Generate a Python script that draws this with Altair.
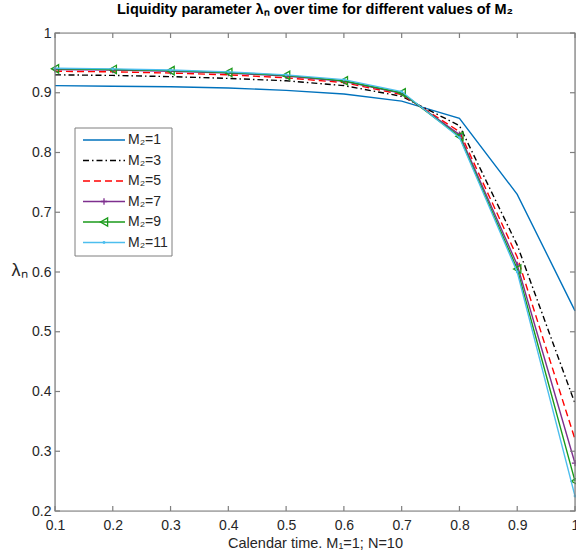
import altair as alt
import pandas as pd

# ---- data ----
x_vals = [0.1, 0.2, 0.3, 0.4, 0.5, 0.6, 0.7, 0.8, 0.9, 1.0]
m2_1 = [0.912, 0.911, 0.910, 0.908, 0.904, 0.898, 0.886, 0.857, 0.730, 0.535]
m2_3 = [0.930, 0.929, 0.927, 0.924, 0.920, 0.912, 0.894, 0.845, 0.645, 0.380]
m2_5 = [0.936, 0.935, 0.933, 0.930, 0.925, 0.917, 0.897, 0.835, 0.625, 0.320]
m2_7 = [0.939, 0.938, 0.936, 0.933, 0.928, 0.919, 0.899, 0.830, 0.612, 0.280]
m2_9 = [0.940, 0.939, 0.937, 0.934, 0.929, 0.920, 0.900, 0.827, 0.605, 0.250]
m2_11 = [0.941, 0.940, 0.938, 0.935, 0.930, 0.922, 0.902, 0.825, 0.600, 0.225]

series_names = ["M₂=1", "M₂=3", "M₂=5", "M₂=7", "M₂=9", "M₂=11"]
series_vals = [m2_1, m2_3, m2_5, m2_7, m2_9, m2_11]
x_ticks = [0.1, 0.2, 0.3, 0.4, 0.5, 0.6, 0.7, 0.8, 0.9, 1.0]
y_ticks = [0.2, 0.3, 0.4, 0.5, 0.6, 0.7, 0.8, 0.9, 1.0]

rows = []
for name, vals in zip(series_names, series_vals):
    for xv, yv in zip(x_vals, vals):
        rows.append({"series": name, "x": xv, "y": yv})
df = pd.DataFrame(rows)

# ---- styles ----
W, H = 520, 478
FONT = "Liberation Sans"
styles = {
    "M₂=1": dict(color="#0072BD", dash=None, shape=None),
    "M₂=3": dict(color="#000000", dash=[6, 3, 1.5, 3], shape=None),
    "M₂=5": dict(color="#FF0000", dash=[7, 4], shape=None),
    "M₂=7": dict(color="#7E2F8E", dash=None, shape="M-1,0L1,0M0,-1L0,1"),
    "M₂=9": dict(color="#1A9A1A", dash=None, shape="triangle-left"),
    "M₂=11": dict(color="#4DBEEE", dash=None, shape="circle"),
}

xscale = alt.Scale(domain=[0.1, 1.0], nice=False, zero=False)
yscale = alt.Scale(domain=[0.2, 1.0], nice=False, zero=False)
lab_expr = "datum.value == 1 ? '1' : format(datum.value, '.1f')"

x_axis = alt.Axis(values=x_ticks, labelExpr=lab_expr, title="Calendar time. M₁=1; N=10",
                  ticks=False, domain=False, grid=False, labelPadding=7, titlePadding=4,
                  labelFlush=False, labelOverlap=False,
                  labelFontSize=14, titleFontSize=14.5, labelFont=FONT, titleFont=FONT,
                  labelColor="#262626", titleColor="#262626", titleFontWeight="normal")
y_axis = alt.Axis(values=y_ticks, labelExpr=lab_expr, title="λₙ",
                  ticks=False, domain=False, grid=False, labelPadding=4,
                  labelFlush=False, labelOverlap=False,
                  labelFontSize=14, titleFontSize=18, labelFont=FONT, titleFont=FONT,
                  labelColor="#262626", titleColor="#262626", titleFontWeight="normal",
                  titleAngle=0, titleX=-36, titleY=237, titleAlign="center", titleBaseline="middle")


def X(field):
    return alt.X(field, scale=xscale, axis=x_axis)


def Y(field):
    return alt.Y(field, scale=yscale, axis=y_axis)


layers = []
for name in series_names:
    st = styles[name]
    kw = dict(color=st["color"], strokeWidth=1.4)
    if st["dash"]:
        kw["strokeDash"] = st["dash"]
    base = alt.Chart(df).transform_filter(alt.datum.series == name)
    layers.append(base.mark_line(**kw).encode(x=X("x:Q"), y=Y("y:Q")))
    if st["shape"]:
        if st["shape"] == "circle":
            pm = base.mark_point(shape="circle", filled=True, size=8, color=st["color"], opacity=1)
        elif st["shape"] == "triangle-left":
            pm = base.mark_point(shape="triangle-left", filled=False, size=70, color=st["color"],
                                 strokeWidth=1.3, opacity=1)
        else:
            pm = base.mark_point(shape=st["shape"], filled=False, size=40, color=st["color"],
                                 strokeWidth=1.3, opacity=1)
        layers.append(pm.encode(x=X("x:Q"), y=Y("y:Q")))

# ---- box and inward ticks ----
one = pd.DataFrame({"a": [0]})
box = alt.Chart(one).mark_rect(fill=None, stroke="#7f7f7f", strokeWidth=1.2).encode(
    x=alt.value(0), x2=alt.value(W), y=alt.value(0), y2=alt.value(H))

xt = pd.DataFrame({"v": x_ticks})
yt = pd.DataFrame({"v": y_ticks})
tk = dict(color="#7f7f7f", strokeWidth=1.2)
xb = alt.Chart(xt).mark_rule(**tk).encode(x=X("v:Q"), y=alt.value(H), y2=alt.value(H - 5))
xtp = alt.Chart(xt).mark_rule(**tk).encode(x=X("v:Q"), y=alt.value(0), y2=alt.value(5))
yl = alt.Chart(yt).mark_rule(**tk).encode(y=Y("v:Q"), x=alt.value(0), x2=alt.value(5))
yr = alt.Chart(yt).mark_rule(**tk).encode(y=Y("v:Q"), x=alt.value(W), x2=alt.value(W - 5))

# ---- legend (manual) ----
leg = [alt.Chart(one).mark_rect(fill="white", stroke="#7f7f7f", strokeWidth=1).encode(
    x=alt.value(20), x2=alt.value(117), y=alt.value(95), y2=alt.value(223))]
for i, name in enumerate(series_names):
    st = styles[name]
    yy = 107 + 20.5 * i
    kw = dict(color=st["color"], strokeWidth=1.4)
    if st["dash"]:
        kw["strokeDash"] = st["dash"]
    leg.append(alt.Chart(one).mark_rule(**kw).encode(
        x=alt.value(28), x2=alt.value(70), y=alt.value(yy)))
    if st["shape"]:
        if st["shape"] == "circle":
            pm = alt.Chart(one).mark_point(shape="circle", filled=True, size=8, color=st["color"], opacity=1)
        elif st["shape"] == "triangle-left":
            pm = alt.Chart(one).mark_point(shape="triangle-left", filled=False, size=70,
                                           color=st["color"], strokeWidth=1.3, opacity=1)
        else:
            pm = alt.Chart(one).mark_point(shape=st["shape"], filled=False, size=40,
                                           color=st["color"], strokeWidth=1.3, opacity=1)
        leg.append(pm.encode(x=alt.value(49), y=alt.value(yy)))
    leg.append(alt.Chart(one).mark_text(align="left", baseline="middle", font=FONT, fontSize=14,
                                        color="#262626").encode(
        x=alt.value(73), y=alt.value(yy), text=alt.value(name)))

chart = alt.layer(*layers, box, xb, xtp, yl, yr, *leg).properties(
    width=W, height=H,
    title=alt.TitleParams("Liquidity parameter λₙ over time for different values of M₂",
                          font=FONT, fontSize=14.5, fontWeight="bold", color="#000000",
                          anchor="middle", offset=9),
    autosize=alt.AutoSizeParams(type="none"),
    padding={"left": 55, "top": 33, "right": 1, "bottom": 46},
).configure_view(stroke=None).configure(background="white")

chart.save("out.html", embed_options={"renderer": "svg", "actions": False})
